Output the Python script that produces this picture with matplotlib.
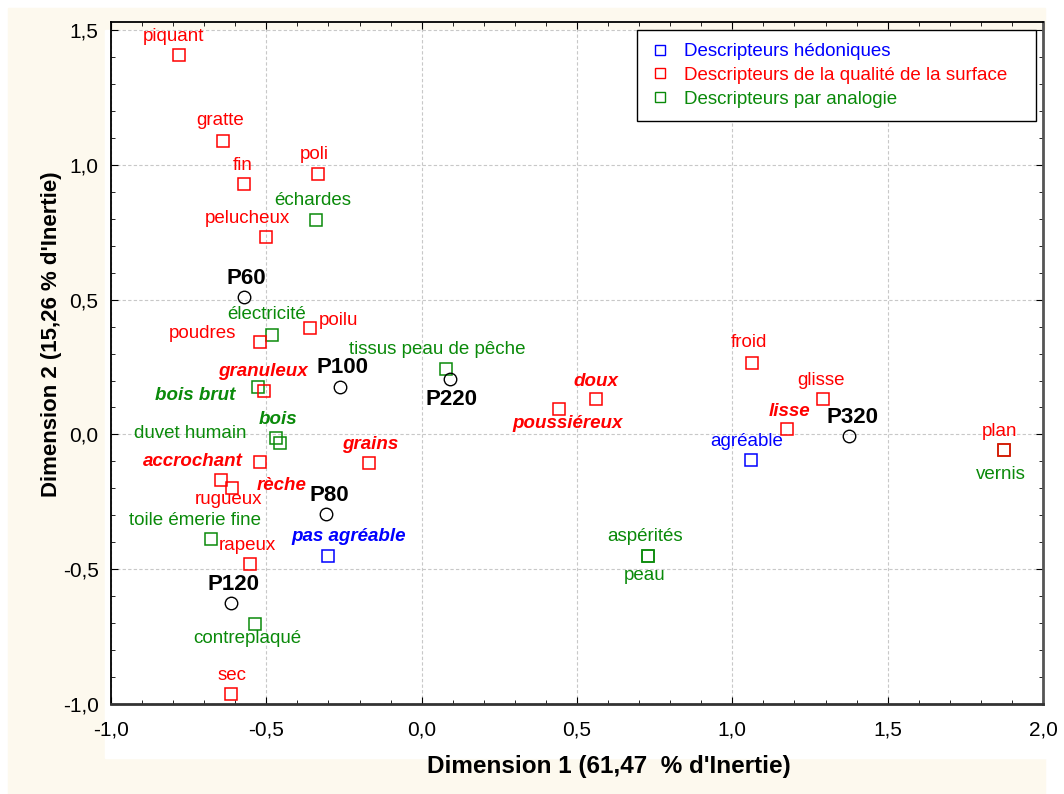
import matplotlib.pyplot as plt
from matplotlib.lines import Line2D
from matplotlib.patches import Rectangle
from matplotlib.ticker import MultipleLocator, FuncFormatter

plt.rcParams['font.family'] = ['Liberation Sans', 'DejaVu Sans']

# descripteurs (coordonnees)
names = ['piquant', 'gratte', 'fin', 'poli', 'échardes', 'pelucheux',
         'électricité', 'poilu', 'poudres', 'bois brut', 'granuleux',
         'tissus peau de pêche', 'bois', 'duvet humain', 'accrochant', 'grains',
         'rugueux', 'rèche', 'toile émerie fine', 'rapeux', 'pas agréable',
         'contreplaqué', 'sec', 'poussiéreux', 'doux', 'aspérités', 'peau',
         'froid', 'glisse', 'lisse', 'agréable', 'vernis', 'plan']
dim1 = [-0.782, -0.641, -0.571, -0.333, -0.340, -0.500,
        -0.481, -0.359, -0.519, -0.526, -0.506,
        0.077, -0.468, -0.455, -0.519, -0.170,
        -0.647, -0.609, -0.679, -0.551, -0.301,
        -0.538, -0.615, 0.442, 0.561, 0.728, 0.728,
        1.064, 1.292, 1.176, 1.061, 1.875, 1.875]
dim2 = [1.406, 1.089, 0.930, 0.967, 0.797, 0.731,
        0.369, 0.395, 0.343, 0.177, 0.162,
        0.244, -0.015, -0.033, -0.103, -0.107,
        -0.170, -0.199, -0.387, -0.480, -0.450,
        -0.705, -0.963, 0.096, 0.133, -0.450, -0.450,
        0.266, 0.133, 0.022, -0.096, -0.059, -0.059]
groups = ['surf', 'surf', 'surf', 'surf', 'ana', 'surf',
          'ana', 'surf', 'surf', 'ana', 'surf',
          'ana', 'ana', 'ana', 'surf', 'surf',
          'surf', 'surf', 'ana', 'surf', 'hed',
          'ana', 'surf', 'surf', 'surf', 'ana', 'ana',
          'surf', 'surf', 'surf', 'hed', 'ana', 'surf']

# produits
products = ['P60', 'P100', 'P220', 'P80', 'P120', 'P320']
prod_dim1 = [-0.571, -0.263, 0.090, -0.308, -0.615, 1.375]
prod_dim2 = [0.509, 0.177, 0.207, -0.295, -0.624, -0.007]

group_names = ['hed', 'surf', 'ana']
group_labels = ['Descripteurs hédoniques', 'Descripteurs de la qualité de la surface',
                'Descripteurs par analogie']

# style
colors = {'hed': '#0000ff', 'surf': '#ff0000', 'ana': '#0a8a0a'}
emph = ['bois brut', 'granuleux', 'bois', 'accrochant', 'grains', 'rèche',
        'pas agréable', 'poussiéreux', 'doux', 'lisse']

# decalage des etiquettes en pixels (dx, dy vers le haut, alignement)
offs = {
    'piquant': (-5, 19, 'center'), 'gratte': (-2, 20, 'center'), 'fin': (-2, 18, 'center'),
    'poli': (-4, 19, 'center'), 'échardes': (-3, 19, 'center'), 'pelucheux': (-19, 19, 'center'),
    'électricité': (-6, 20, 'center'), 'poilu': (9, 7, 'left'), 'poudres': (-24, 8, 'right'),
    'bois brut': (-23, -9, 'right'), 'granuleux': (-2, 19, 'center'),
    'tissus peau de pêche': (-8, 19, 'center'), 'bois': (2, 19, 'center'),
    'duvet humain': (-34, 10, 'right'), 'accrochant': (-18, 1, 'right'), 'grains': (1, 19, 'center'),
    'rugueux': (8, -19, 'center'), 'rèche': (24, 3, 'left'), 'toile émerie fine': (-16, 18, 'center'),
    'rapeux': (-3, 18, 'center'), 'pas agréable': (21, 19, 'center'),
    'contreplaqué': (-7, -14, 'center'), 'sec': (1, 19, 'center'),
    'poussiéreux': (9, -15, 'center'), 'doux': (0, 17, 'center'),
    'aspérités': (-3, 19, 'center'), 'peau': (-3, -20, 'center'),
    'froid': (-3, 20, 'center'), 'glisse': (-2, 18, 'center'), 'lisse': (2, 17, 'center'),
    'agréable': (-5, 19, 'center'), 'plan': (-5, 19, 'center'), 'vernis': (-3, -24, 'center'),
}
prod_offs = {'P60': (2, 19), 'P100': (3, 19), 'P220': (2, -21), 'P80': (3, 18),
             'P120': (3, 18), 'P320': (4, 19)}

W, H = 1064, 794
fig = plt.figure(figsize=(W / 100, H / 100), dpi=100)
fig.patch.set_facecolor('white')
fig.add_artist(Rectangle((8 / W, 0), (1045 - 8) / W, (H - 8) / H,
                         transform=fig.transFigure, color='#fdf9ee', zorder=-2))
fig.add_artist(Rectangle((105 / W, 1 - 758 / H), (W - 105) / W, (758 - 30) / H,
                         transform=fig.transFigure, color='white', zorder=-1))

ax = fig.add_axes([111 / W, 1 - 704 / H, (1043 - 111) / W, (704 - 22) / H])
ax.set_zorder(1)
ax.patch.set_visible(False)
ax.set_xlim(-1.0, 2.0)
ax.set_ylim(-1.0, 1.53)

ax.xaxis.set_major_locator(MultipleLocator(0.5))
ax.xaxis.set_minor_locator(MultipleLocator(0.1))
ax.yaxis.set_major_locator(MultipleLocator(0.5))
ax.yaxis.set_minor_locator(MultipleLocator(0.1))
fmt = FuncFormatter(lambda v, p: f'{v:.1f}'.replace('.', ','))
ax.xaxis.set_major_formatter(fmt)
ax.yaxis.set_major_formatter(fmt)
ax.tick_params(which='both', direction='in', top=True, right=True, labelsize=15)
ax.tick_params(which='major', length=5)
ax.tick_params(which='minor', length=3)
ax.tick_params(axis='x', pad=12)
ax.tick_params(axis='y', pad=9)
ax.grid(True, which='major', color='#c8c8c8', linestyle=(0, (3, 2)), linewidth=0.8)
for s in ax.spines.values():
    s.set_linewidth(1.3)
ax.spines['bottom'].set_color('#333333')
ax.spines['bottom'].set_linewidth(2)
ax.spines['right'].set_color('#555555')
ax.spines['right'].set_linewidth(2)

for n, x, y, g in zip(names, dim1, dim2, groups):
    c = colors[g]
    ax.plot(x, y, marker='s', ms=9, mfc='none', mec=c, mew=1.1, ls='none', zorder=3)
    dx, dy, ha = offs[n]
    bold = n in emph
    ax.annotate(n, (x, y), xytext=(dx * 0.72, dy * 0.72), textcoords='offset points',
                ha=ha, va='center', color=c, fontsize=13.5,
                fontweight='bold' if bold else 'normal',
                fontstyle='italic' if bold else 'normal')

for p, x, y in zip(products, prod_dim1, prod_dim2):
    ax.plot(x, y, marker='o', ms=9, mfc='none', mec='black', mew=1.0, ls='none', zorder=3)
    dx, dy = prod_offs[p]
    ax.annotate(p, (x, y), xytext=(dx * 0.72, dy * 0.72), textcoords='offset points',
                ha='center', va='center', color='black', fontsize=16, fontweight='bold')

handles = [Line2D([], [], marker='s', ls='none', mfc='none', mec=colors[g], ms=7, mew=1.0)
           for g in group_names]
leg = ax.legend(handles, group_labels, loc='upper left', mode='expand',
                bbox_to_anchor=((637 - 111) / 932, (704 - 122) / 682, 399 / 932, 92 / 682),
                labelcolor=[colors[g] for g in group_names], fontsize=13.5,
                frameon=True, fancybox=False, framealpha=1, edgecolor='black',
                borderaxespad=0, borderpad=0.7, handlelength=1.0, handletextpad=0.8,
                labelspacing=0.35)
leg.get_frame().set_linewidth(1.0)

fig.text(609 / W, 1 - 766 / H, "Dimension 1 (61,47  % d'Inertie)", ha='center', va='center',
         fontsize=17.5, fontweight='bold')
fig.text(52 / W, 1 - 334 / H, "Dimension 2 (15,26 % d'Inertie)", ha='center', va='center',
         rotation=90, fontsize=16, fontweight='bold')

fig.savefig('out.png', dpi=100)
